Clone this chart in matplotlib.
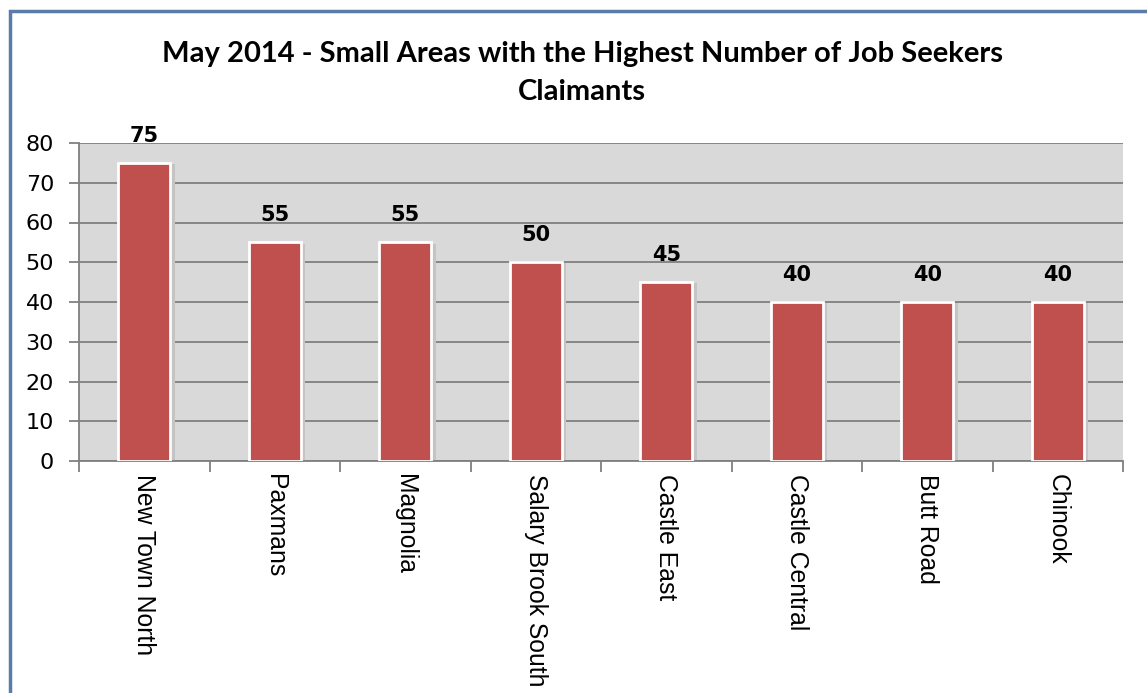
import matplotlib
matplotlib.use("Agg")
import matplotlib.pyplot as plt
from matplotlib.patches import Rectangle

categories = ["New Town North", "Paxmans", "Magnolia", "Salary Brook South",
              "Castle East", "Castle Central", "Butt Road", "Chinook"]
values = [75, 55, 55, 50, 45, 40, 40, 40]
yticks = [0, 10, 20, 30, 40, 50, 60, 70, 80]
title = "May 2014 - Small Areas with the Highest Number of Job Seekers\nClaimants"

W, H = 1147, 693
fig = plt.figure(figsize=(W / 100, H / 100), dpi=100)
fig.patch.set_facecolor("white")

# outer border
fig.patches.append(Rectangle((10 / W, -0.1), 2, 1.1 - 11 / H, transform=fig.transFigure,
                             fill=False, edgecolor="#5B7BA8", linewidth=2.5))

ax = fig.add_axes([79 / W, 1 - 461 / H, (1123 - 79) / W, (461 - 143) / H])
ax.set_facecolor("#D9D9D9")
x = list(range(len(categories)))

# subtle shadow
ax.bar([i + 0.025 for i in x], [v - 0.3 for v in values], width=0.42, color="#C4C4C4",
       edgecolor="none", zorder=2)
bars = ax.bar(x, values, width=0.4, color="#C0504D", edgecolor="white", linewidth=2, zorder=3)

for i, v in zip(x, values):
    ax.annotate(str(v), (i, v), xytext=(0, 12.5), textcoords="offset points", ha="center",
                va="bottom", fontsize=15, fontweight="bold", family="DejaVu Sans",
                color="black", annotation_clip=False)

ax.set_xlim(-0.5, len(categories) - 0.5)
ax.set_ylim(0, 80)
ax.set_yticks(yticks)
ax.set_yticklabels([str(t) for t in yticks], fontsize=16, family="DejaVu Sans")
ax.yaxis.grid(True, color="#808080", linewidth=1.3, zorder=1)
ax.set_axisbelow(True)
ax.tick_params(axis="y", length=7, color="#808080", width=1.3, pad=11)

ax.set_xticks([i - 0.5 for i in range(len(categories) + 1)], minor=False)
ax.set_xticklabels([])
ax.set_xticks(x, minor=True)
ax.set_xticklabels(categories, minor=True, rotation=270, fontsize=17.8,
                   family="Liberation Sans", va="top", ha="center")
ax.tick_params(axis="x", which="major", length=8, color="#808080", width=1.3)
ax.tick_params(axis="x", which="minor", length=0, pad=9)

for s in ["top", "right"]:
    ax.spines[s].set_visible(False)
for s in ["left", "bottom"]:
    ax.spines[s].set_color("#808080")
    ax.spines[s].set_linewidth(1.3)

fig.text(582 / W, 1 - 73 / H, title, ha="center", va="center", fontsize=21,
         fontweight="bold", family="Lato", linespacing=1.6)

fig.savefig("out.png", dpi=100)
